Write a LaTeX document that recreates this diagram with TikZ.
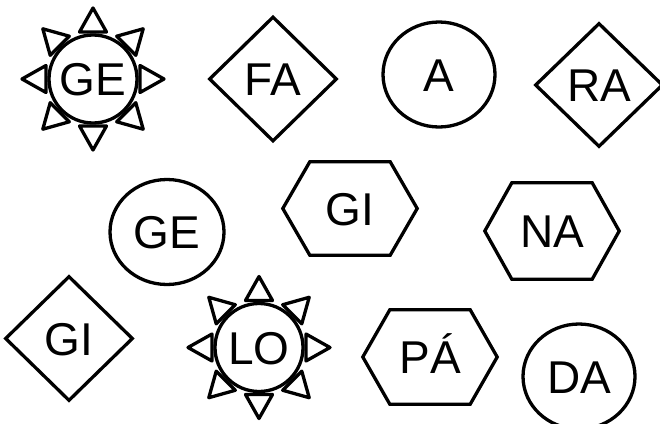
\documentclass[tikz,border=0pt]{standalone}
\usepackage{fontspec}
\setmainfont{Liberation Sans}
\usetikzlibrary{shapes.geometric}

\begin{document}
\begin{tikzpicture}[
    x=1pt, y=-1pt,
    font=\fontsize{46}{50}\selectfont,
    every node/.style={inner sep=0pt, text height=33pt, text depth=0pt},
    outline/.style={draw, line width=3.3pt},
    sun/.style={outline, circle, minimum size=88pt},
    ring/.style={outline, ellipse, minimum width=112pt, minimum height=105pt},
    rhomb/.style={outline, diamond, minimum width=128pt, minimum height=125pt},
    hexa/.style={minimum width=134pt, minimum height=94pt},
    ray/.style={line width=3.3pt, line join=round}
  ]
    \useasboundingbox (0,0) rectangle (660,423);

    % top row
    \node[sun] (gesun) at (93,79) {GE};
    \node[rhomb] (fadiam) at (273,79) {FA};
    \node[ring] (acirc) at (439,74.5) {A};
    \node[rhomb, minimum height=124pt] (radiam) at (599,85) {RA};

    % middle row
    \node[ring, minimum width=114pt] (gecirc) at (167,232) {GE};
    \node[hexa, minimum height=93pt] (gihex) at (350,208.5) {GI};
    \node[hexa, minimum height=96pt] (nahex) at (552,231) {NA};

    % bottom row
    \node[rhomb] (gidiam) at (69,338.5) {GI};
    \node[sun] (losun) at (259,347.5) {LO};
    \node[hexa] (pahex) at (430,357) {PÁ};
    \node[ring] (dacirc) at (579,376.5) {DA};

    % hexagon outlines
    \foreach \h in {gihex,nahex,pahex}
      \draw[outline] (\h.west) -- ([xshift=27pt]\h.north west) -- ([xshift=-27pt]\h.north east)
        -- (\h.east) -- ([xshift=-27pt]\h.south east) -- ([xshift=27pt]\h.south west) -- cycle;

    % sun rays
    \foreach \s in {gesun,losun}
      \foreach \a in {0,45,...,315}
        \draw[ray, shift={(\s.center)}, rotate=\a] (47,-13.5) -- (71,0) -- (47,13.5) -- cycle;
  \end{tikzpicture}
\end{document}
